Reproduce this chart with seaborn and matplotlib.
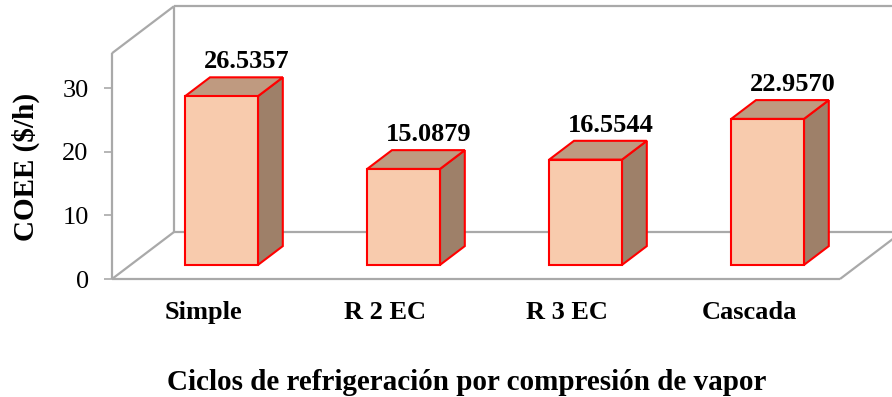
import matplotlib
matplotlib.use("Agg")
import matplotlib.pyplot as plt
import seaborn as sns
import pandas as pd
from matplotlib.patches import Polygon

# ---- data ----
categories = ["Simple", "R 2 EC", "R 3 EC", "Cascada"]
coee = [26.5357, 15.0879, 16.5544, 22.9570]
value_labels = ["26.5357", "15.0879", "16.5544", "22.9570"]
y_ticks = [0, 10, 20, 30]

df = pd.DataFrame({"ciclo": categories, "coee": coee})

# ---- style ----
sns.set_theme(style="white")
plt.rcParams["font.family"] = ["Liberation Serif", "DejaVu Serif"]

FRONT = "#F8CBAD"
TOP = "#BF9A80"
SIDE = "#9E8069"
EDGE = "#FF0000"
GRID = "#A9A9A9"
FS = 19
FS_TITLE = 21

W, H = 892, 397
PX_PER_UNIT = 6.36          # vertical pixels per COEE unit
CAT_PX = 182                # horizontal pixels per category
LEFT_PX, FLOOR_PX = 112, 279

fig = plt.figure(figsize=(W / 100, H / 100), dpi=100)
ax = fig.add_axes([LEFT_PX / W, (H - FLOOR_PX) / H, (W - LEFT_PX) / W, FLOOR_PX / H])

# oblique depth of the whole box (in data units)
DX = 62 / CAT_PX
DY = 47 / PX_PER_UNIT
WALL_TOP = 35.5
X0, X1 = -0.5, len(categories) - 0.5
XFAR = X1 + DX + 1.0

# ---- box frame: floor, left wall, back wall ----
line_kw = dict(color=GRID, lw=1.6, clip_on=False, zorder=1, solid_capstyle="butt")
ax.plot([X0, X0], [0, WALL_TOP], **line_kw)
ax.plot([X0, X0 + DX], [WALL_TOP, WALL_TOP + DY], **line_kw)
ax.plot([X0 + DX, X0 + DX], [DY, WALL_TOP + DY], **line_kw)
ax.plot([X0 + DX, XFAR], [WALL_TOP + DY, WALL_TOP + DY], **line_kw)
ax.plot([X0, X1], [0, 0], **line_kw)
ax.plot([X0, X0 + DX], [0, DY], **line_kw)
ax.plot([X0 + DX, XFAR], [DY, DY], **line_kw)
ax.plot([X1, X1 + DX], [0, DY], **line_kw)

# ---- bars (front faces) ----
sns.barplot(data=df, x="ciclo", y="coee", order=categories, width=0.4,
            color=FRONT, saturation=1, edgecolor=EDGE, linewidth=1.5, ax=ax,
            zorder=3)

# bars sit in the middle of the depth: front plane at 30 %, back at 70 %
f_dx, f_dy = 0.3 * DX, 0.3 * DY
b_dx, b_dy = 0.4 * DX, 0.4 * DY

for patch, lab in zip(ax.patches, value_labels):
    patch.set_x(patch.get_x() + f_dx)
    patch.set_y(f_dy)
    xl = patch.get_x()
    xr = xl + patch.get_width()
    y0 = patch.get_y()
    y1 = y0 + patch.get_height()
    side = Polygon([(xr, y0), (xr + b_dx, y0 + b_dy), (xr + b_dx, y1 + b_dy), (xr, y1)],
                   closed=True, facecolor=SIDE, edgecolor=EDGE, lw=1.5, zorder=2.5,
                   joinstyle="miter")
    top = Polygon([(xl, y1), (xr, y1), (xr + b_dx, y1 + b_dy), (xl + b_dx, y1 + b_dy)],
                  closed=True, facecolor=TOP, edgecolor=EDGE, lw=1.5, zorder=2.5,
                  joinstyle="miter")
    ax.add_patch(side)
    ax.add_patch(top)
    ax.text((xl + xr) / 2 + b_dx, y1 + b_dy + 1.4, lab, ha="center", va="baseline",
            fontsize=FS, fontweight="bold", color="black", zorder=5)

# ---- axes ----
ax.set_xlim(X0, X0 + (W - LEFT_PX) / CAT_PX)
ax.set_ylim(0, FLOOR_PX / PX_PER_UNIT)
for s in ax.spines.values():
    s.set_visible(False)

ax.set_yticks(y_ticks)
ax.set_yticklabels([str(t) for t in y_ticks])
ax.tick_params(axis="y", left=True, length=5.8, width=1.2, color=GRID,
               pad=11, labelsize=FS, labelcolor="black")
ax.tick_params(axis="x", bottom=False, length=0, pad=15.5, labelsize=FS,
               labelcolor="black")
for lbl in ax.get_xticklabels():
    lbl.set_fontweight("bold")

ax.set_xlabel("Ciclos de refrigeración por compresión de vapor",
              fontsize=FS_TITLE, fontweight="bold", color="black")
ax.xaxis.label.set_verticalalignment("center")
ax.xaxis.set_label_coords((467 - LEFT_PX) / (W - LEFT_PX), (FLOOR_PX - 382) / FLOOR_PX)

ax.set_ylabel(r"COEE (\$/h)", fontsize=FS_TITLE, fontweight="bold", color="black")
ax.yaxis.label.set_verticalalignment("center")
ax.yaxis.set_label_coords((26 - LEFT_PX) / (W - LEFT_PX), (FLOOR_PX - 167) / FLOOR_PX)

ax.patch.set_alpha(0)
fig.savefig("out.png", dpi=100, facecolor="white")
